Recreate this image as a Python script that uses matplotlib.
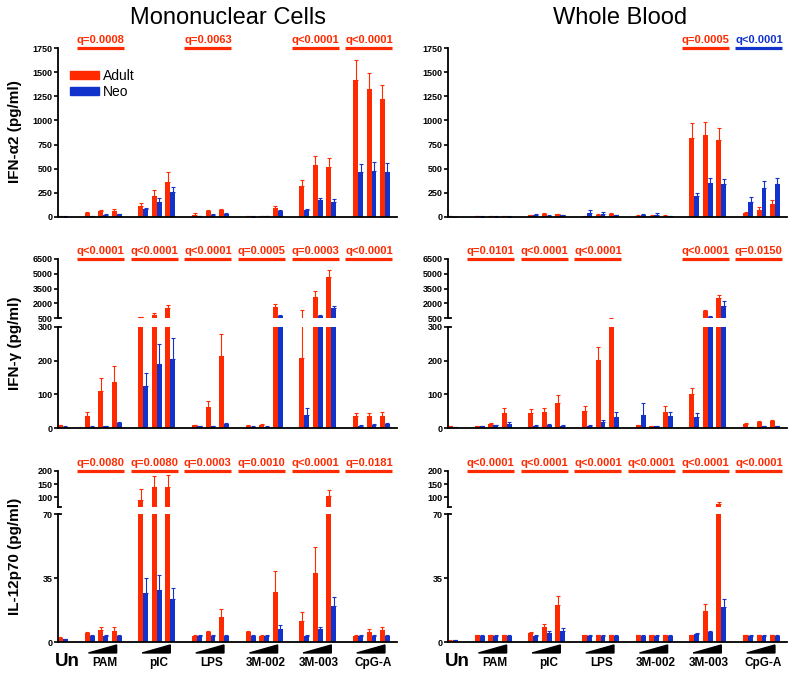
import matplotlib
matplotlib.use("Agg")
import matplotlib.pyplot as plt
import matplotlib.transforms as mtransforms
from matplotlib.patches import Patch, Polygon
import numpy as np

plt.rcParams['font.family'] = ['Liberation Sans', 'DejaVu Sans']

RED = '#ff2a00'
BLUE = '#1133cc'

groups = ['PAM', 'pIC', 'LPS', '3M-002', '3M-003', 'CpG-A']

# order: Un, then 3 doses of PAM, pIC, LPS, 3M-002, 3M-003, CpG-A
# IFN-a2, mononuclear cells
ifna_mnc_adult = [8, 40, 60, 65, 115, 220, 365, 25, 60, 75, 8, 12, 95, 320, 537, 520, 1414, 1324, 1220]
ifna_mnc_adult_err = [3, 10, 15, 15, 30, 55, 100, 15, 8, 8, 3, 3, 20, 65, 95, 90, 210, 170, 145]
ifna_mnc_neo = [5, 10, 25, 30, 80, 155, 260, 10, 25, 35, 5, 8, 65, 70, 173, 160, 461, 478, 461]
ifna_mnc_neo_err = [2, 3, 4, 5, 12, 45, 50, 3, 4, 5, 2, 2, 10, 15, 28, 30, 83, 87, 93]

# IFN-a2, whole blood
ifna_wb_adult = [8, 8, 8, 8, 20, 35, 30, 10, 25, 30, 15, 15, 15, 821, 852, 793, 40, 75, 138]
ifna_wb_adult_err = [3, 3, 3, 3, 5, 5, 5, 3, 8, 8, 5, 5, 3, 150, 132, 125, 8, 30, 35]
ifna_wb_neo = [3, 5, 5, 5, 25, 15, 20, 40, 35, 20, 25, 25, 10, 215, 357, 346, 156, 300, 343]
ifna_wb_neo_err = [2, 2, 2, 2, 8, 5, 5, 30, 20, 5, 10, 20, 3, 38, 48, 46, 52, 70, 66]

# IFN-g, mononuclear cells
ifng_mnc_adult = [8, 35, 110, 137, 580, 840, 1520, 8, 61, 214, 6, 10, 1620, 207, 2600, 4670, 35, 35, 37]
ifng_mnc_adult_err = [2, 13, 38, 48, 70, 170, 340, 2, 20, 64, 2, 2, 340, 1073, 680, 745, 9, 10, 10]
ifng_mnc_neo = [4, 4, 6, 14, 126, 190, 206, 5, 6, 12, 4, 4, 740, 40, 740, 1520, 6, 10, 13]
ifng_mnc_neo_err = [1, 1, 1, 4, 37, 60, 62, 1, 1, 2, 1, 1, 50, 19, 100, 230, 2, 2, 2]

# IFN-g, whole blood
ifng_wb_adult = [5, 6, 13, 46, 46, 48, 75, 51, 203, 420, 8, 5, 47, 100, 1180, 2530, 12, 17, 20]
ifng_wb_adult_err = [1, 1, 2, 12, 11, 12, 23, 13, 37, 105, 1, 1, 19, 18, 170, 310, 2, 5, 5]
ifng_wb_neo = [2, 5, 8, 13, 7, 9, 7, 7, 18, 33, 40, 5, 37, 33, 570, 1690, 3, 6, 5]
ifng_wb_neo_err = [1, 1, 1, 5, 1, 2, 1, 1, 7, 16, 34, 1, 12, 11, 170, 510, 1, 1, 1]

# IL-12p70, mononuclear cells
il12_mnc_adult = [2, 4.7, 6.4, 6.2, 90, 137, 137, 3.5, 5.5, 13.8, 5.3, 3.5, 27.6, 11.6, 37.5, 102.5, 3.5, 5.5, 6.5]
il12_mnc_adult_err = [1, 0.8, 1.6, 1.8, 40, 44, 49, 0.3, 0.5, 4.2, 0.7, 0.3, 11.1, 4.6, 14.5, 25, 0.3, 1.5, 1.7]
il12_mnc_neo = [1.5, 3.5, 3.5, 3.5, 27, 28.5, 23.5, 3.5, 3.5, 3.5, 3.5, 3.5, 7.1, 3.5, 6.9, 19.6, 3.5, 3.5, 3.5]
il12_mnc_neo_err = [0.2, 0.2, 0.2, 0.2, 8, 7.9, 6.3, 0.2, 0.2, 0.2, 0.2, 0.2, 2.4, 0.2, 1.5, 4.8, 0.2, 0.2, 0.2]

# IL-12p70, whole blood
il12_wb_adult = [0.8, 3.8, 3.8, 3.8, 4.9, 8, 20.2, 3.8, 3.8, 3.8, 3.8, 3.8, 3.8, 3.8, 17, 72, 3.8, 3.8, 3.8]
il12_wb_adult_err = [0.1, 0.1, 0.1, 0.1, 0.6, 1.8, 4.8, 0.1, 0.1, 0.1, 0.1, 0.1, 0.1, 0.1, 4, 8, 0.1, 0.1, 0.1]
il12_wb_neo = [1, 3.5, 3.5, 3.5, 3.5, 5.1, 6.2, 3.5, 3.5, 3.5, 3.5, 3.5, 3.5, 4.5, 5.3, 18.9, 3.5, 3.5, 3.5]
il12_wb_neo_err = [0.1, 0.1, 0.1, 0.1, 0.1, 0.7, 1.3, 0.1, 0.1, 0.1, 0.1, 0.1, 0.1, 0.2, 0.5, 4.4, 0.1, 0.1, 0.1]

# q values: (stimulus, text, colour)
q_ifna_mnc = [('PAM', 'q=0.0008', RED), ('LPS', 'q=0.0063', RED), ('3M-003', 'q<0.0001', RED), ('CpG-A', 'q<0.0001', RED)]
q_ifna_wb = [('3M-003', 'q=0.0005', RED), ('CpG-A', 'q<0.0001', BLUE)]
q_ifng_mnc = [('PAM', 'q<0.0001', RED), ('pIC', 'q<0.0001', RED), ('LPS', 'q<0.0001', RED),
              ('3M-002', 'q=0.0005', RED), ('3M-003', 'q=0.0003', RED), ('CpG-A', 'q<0.0001', RED)]
q_ifng_wb = [('PAM', 'q=0.0101', RED), ('pIC', 'q<0.0001', RED), ('LPS', 'q<0.0001', RED),
             ('3M-003', 'q<0.0001', RED), ('CpG-A', 'q=0.0150', RED)]
q_il12_mnc = [('PAM', 'q=0.0080', RED), ('pIC', 'q=0.0080', RED), ('LPS', 'q=0.0003', RED),
              ('3M-002', 'q=0.0010', RED), ('3M-003', 'q<0.0001', RED), ('CpG-A', 'q=0.0181', RED)]
q_il12_wb = [(g, 'q<0.0001', RED) for g in groups]

xpos = np.array([0] + [2 + 4 * g + d for g in range(6) for d in range(3)], dtype=float)
centers = {g: 3 + 4 * i for i, g in enumerate(groups)}
W = 0.37
XLIM = (-0.37, 24.9)

fig = plt.figure(figsize=(8, 6.77), dpi=100)
H = 677.0


def make_ax(x0, top, bottom):
    return fig.add_axes([x0 / 800, 1 - bottom / H, 339 / 800, (bottom - top) / H])


def draw(ax, adult, adult_err, neo, neo_err):
    ax.bar(xpos - W / 2, adult, W, color=RED, lw=0, zorder=2)
    ax.bar(xpos + W / 2, neo, W, color=BLUE, lw=0, zorder=2)
    ax.errorbar(xpos - W / 2, adult, yerr=[np.zeros(len(adult)), adult_err], fmt='none',
                ecolor=RED, elinewidth=0.8, capsize=1.5, capthick=0.8, zorder=1)
    ax.errorbar(xpos + W / 2, neo, yerr=[np.zeros(len(neo)), neo_err], fmt='none',
                ecolor=BLUE, elinewidth=0.8, capsize=1.5, capthick=0.8, zorder=1)


def style(ax, ylim, ticks, bottom=True, hook=None):
    ax.set_xlim(*XLIM)
    ax.set_ylim(*ylim)
    ax.set_yticks(ticks)
    ax.set_xticks([])
    ax.spines['top'].set_visible(False)
    ax.spines['right'].set_visible(False)
    ax.spines['bottom'].set_visible(bottom)
    for s in ax.spines.values():
        s.set_linewidth(1.3)
    ax.tick_params(axis='y', length=3, width=1.2, labelsize=6.5, pad=1)
    for lab in ax.get_yticklabels():
        lab.set_fontweight('bold')
    if hook is not None:
        ax.plot([0, 0.01], [hook, hook], transform=ax.transAxes, color='k', lw=1.3, clip_on=False)


def add_q(ax, items):
    tr = ax.get_xaxis_transform()
    for g, txt, col in items:
        c = centers[g] - 0.2
        ax.plot([c - 1.75, c + 1.75], [1, 1], transform=tr, color=col, lw=2.3,
                solid_capstyle='butt', clip_on=False)
        ax.annotate(txt, (c, 1), xycoords=tr, xytext=(0, 2.5), textcoords='offset points',
                    ha='center', va='bottom', fontsize=8, fontweight='bold', color=col)


columns = [
    (58, ifna_mnc_adult, ifna_mnc_adult_err, ifna_mnc_neo, ifna_mnc_neo_err, q_ifna_mnc,
     ifng_mnc_adult, ifng_mnc_adult_err, ifng_mnc_neo, ifng_mnc_neo_err, q_ifng_mnc,
     il12_mnc_adult, il12_mnc_adult_err, il12_mnc_neo, il12_mnc_neo_err, q_il12_mnc),
    (448, ifna_wb_adult, ifna_wb_adult_err, ifna_wb_neo, ifna_wb_neo_err, q_ifna_wb,
     ifng_wb_adult, ifng_wb_adult_err, ifng_wb_neo, ifng_wb_neo_err, q_ifng_wb,
     il12_wb_adult, il12_wb_adult_err, il12_wb_neo, il12_wb_neo_err, q_il12_wb),
]

for ci, col in enumerate(columns):
    x0 = col[0]
    # IFN-a2
    ax = make_ax(x0, 48, 217)
    draw(ax, *col[1:5])
    style(ax, (0, 1750), range(0, 1751, 250))
    add_q(ax, col[5])
    if ci == 0:
        ax.legend(handles=[Patch(color=RED, label='Adult'), Patch(color=BLUE, label='Neo')],
                  loc='upper left', bbox_to_anchor=(0.035, 0.875), frameon=False, fontsize=10,
                  handlelength=2.1, handleheight=0.55, handletextpad=0.3, labelspacing=0.15,
                  borderpad=0, borderaxespad=0)

    # IFN-g (broken axis)
    up = make_ax(x0, 259, 318)
    lo = make_ax(x0, 327, 428)
    for a in (up, lo):
        draw(a, *col[6:10])
    style(up, (500, 6500), [500, 2000, 3500, 5000, 6500], bottom=False, hook=0)
    style(lo, (0, 300), [0, 100, 200, 300], hook=1)
    add_q(up, col[10])

    # IL-12p70 (broken axis)
    up = make_ax(x0, 471, 507)
    lo = make_ax(x0, 514, 642)
    for a in (up, lo):
        draw(a, *col[11:15])
    style(up, (62, 200), [100, 150, 200], bottom=False, hook=0)
    style(lo, (0, 70), [0, 35, 70], hook=1)
    add_q(up, col[15])

    # stimulus labels and dose wedges
    tr = mtransforms.blended_transform_factory(lo.transData, fig.transFigure)
    for g in groups:
        c = centers[g]
        lo.add_patch(Polygon([(c - 1.1, 0.0355), (c + 1.0, 0.0473), (c + 1.0, 0.0355)],
                             closed=True, color='k', transform=tr, clip_on=False))
        lo.text(c + 0.1, 0.0207, g, transform=tr, ha='center', va='center',
                fontsize=8.5, fontweight='bold')
    lo.text(0.3, 0.0236, 'Un', transform=tr, ha='center', va='center',
            fontsize=13.5, fontweight='bold')

fig.text(228 / 800, 1 - 18 / H, 'Mononuclear Cells', ha='center', va='center', fontsize=17)
fig.text(620 / 800, 1 - 18 / H, 'Whole Blood', ha='center', va='center', fontsize=17)

fig.text(0.019, 1 - 132 / H, 'IFN-α2 (pg/ml)', rotation=90, ha='center', va='center',
         fontsize=11, fontweight='bold')
fig.text(0.019, 1 - 343 / H, 'IFN-γ (pg/ml)', rotation=90, ha='center', va='center',
         fontsize=11, fontweight='bold')
fig.text(0.019, 1 - 556 / H, 'IL-12p70 (pg/ml)', rotation=90, ha='center', va='center',
         fontsize=11, fontweight='bold')

fig.savefig('out.png', dpi=100)
